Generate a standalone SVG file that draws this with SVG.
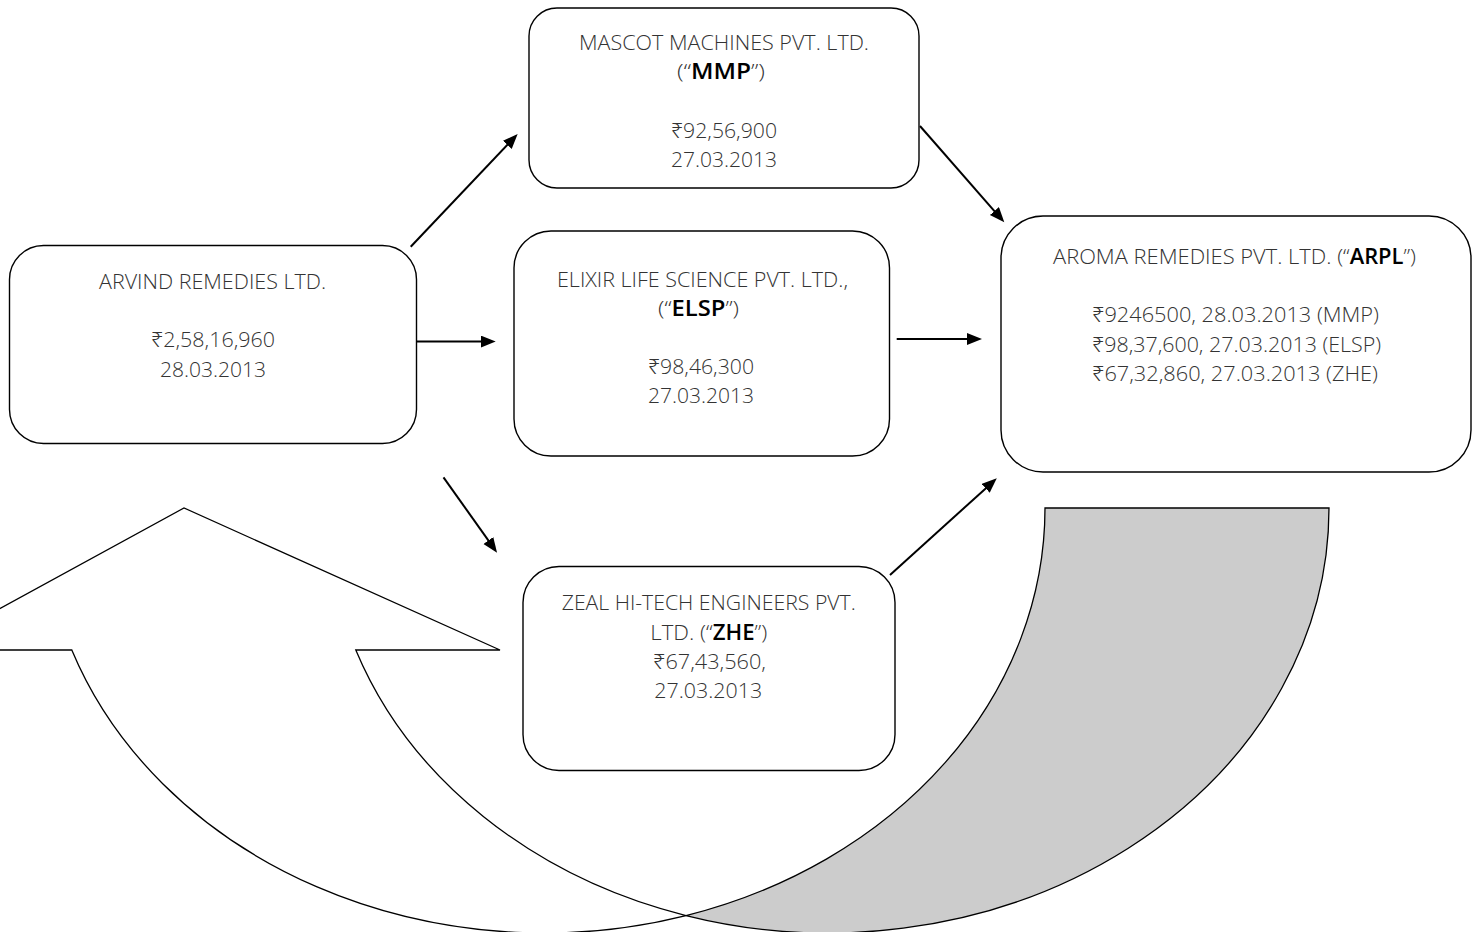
<svg xmlns="http://www.w3.org/2000/svg" width="1477" height="932" viewBox="0 0 1477 932">
  <defs>
    <marker id="ah" markerUnits="userSpaceOnUse" markerWidth="16" markerHeight="13" refX="3" refY="6" orient="auto">
      <path d="M0,0 L15,6 L0,12 Z" fill="#000"/>
    </marker>
    <style>
      .box { fill: #fff; stroke: #000; stroke-width: 1.4; }
      .conn { stroke: #000; stroke-width: 2; fill: none; marker-end: url(#ah); }
      .t { font-family: "Open Sans", "Noto Sans", "DejaVu Sans", sans-serif; font-weight: 300; font-size: 21px; fill: #333; text-anchor: middle; }
      .b { font-weight: 600; fill: #000; }
      .arrow-front { fill: #fff; stroke: #000; stroke-width: 1.3; }
      .arrow-back { fill: #cccccc; stroke: #000; stroke-width: 1.3; }
    </style>
  </defs>
  <rect width="1477" height="932" fill="#fff"/>

  <g id="curved-arrow">
    <path class="arrow-back" d="M1045,508 L1329,508 A501,425 0 0 1 686,915.6 A501,425 0 0 0 1045,508 Z"/>
    <path class="arrow-front" d="M71.8,650 L-76,650 L184,508 L500,650 L355.8,650 A501,425 0 0 0 686,915.6 A501,425 0 0 1 71.8,650 Z"/>
  </g>

  <g id="connectors">
    <line class="conn" x1="410.7" y1="246.7" x2="509.4" y2="142.7"/>
    <line class="conn" x1="416.7" y1="341.5" x2="483.7" y2="341.5"/>
    <line class="conn" x1="896.7" y1="339" x2="970" y2="339"/>
    <line class="conn" x1="443.5" y1="477.3" x2="490.1" y2="542.9"/>
    <line class="conn" x1="890" y1="575" x2="987.9" y2="486.4"/>
    <line class="conn" x1="920" y1="126" x2="996.4" y2="213.3"/>
  </g>

  <g id="node-mmp">
    <rect class="box" x="529" y="8" width="390" height="180" rx="28" ry="28"/>
    <text class="t" x="724" y="50" textLength="290" lengthAdjust="spacingAndGlyphs">MASCOT MACHINES PVT. LTD.</text>
    <text class="t" x="721" y="79" textLength="88" lengthAdjust="spacingAndGlyphs">(“<tspan class="b">MMP</tspan>”)</text>
    <text class="t" x="724" y="137.5" textLength="106" lengthAdjust="spacingAndGlyphs">₹92,56,900</text>
    <text class="t" x="724" y="166.5" textLength="106" lengthAdjust="spacingAndGlyphs">27.03.2013</text>
  </g>

  <g id="node-arvind">
    <rect class="box" x="9.5" y="245.5" width="407" height="198" rx="34" ry="34"/>
    <text class="t" x="212.5" y="289.3" textLength="227" lengthAdjust="spacingAndGlyphs">ARVIND REMEDIES LTD.</text>
    <text class="t" x="213" y="347.3" textLength="124" lengthAdjust="spacingAndGlyphs">₹2,58,16,960</text>
    <text class="t" x="213" y="376.7" textLength="106" lengthAdjust="spacingAndGlyphs">28.03.2013</text>
  </g>

  <g id="node-elsp">
    <rect class="box" x="514" y="231" width="375.5" height="225" rx="37" ry="37"/>
    <text class="t" x="702.5" y="286.7" textLength="291" lengthAdjust="spacingAndGlyphs">ELIXIR LIFE SCIENCE PVT. LTD.,</text>
    <text class="t" x="698.5" y="315.7" textLength="81" lengthAdjust="spacingAndGlyphs">(“<tspan class="b">ELSP</tspan>”)</text>
    <text class="t" x="701" y="373.7" textLength="106" lengthAdjust="spacingAndGlyphs">₹98,46,300</text>
    <text class="t" x="701" y="402.7" textLength="106" lengthAdjust="spacingAndGlyphs">27.03.2013</text>
  </g>

  <g id="node-arpl">
    <rect class="box" x="1001" y="216" width="470" height="256" rx="42" ry="42"/>
    <text class="t" x="1234.5" y="263.7" textLength="363" lengthAdjust="spacingAndGlyphs">AROMA REMEDIES PVT. LTD. (“<tspan class="b">ARPL</tspan>”)</text>
    <text class="t" x="1235.5" y="322" textLength="287" lengthAdjust="spacingAndGlyphs">₹9246500, 28.03.2013 (MMP)</text>
    <text class="t" x="1236.5" y="351.5" textLength="289" lengthAdjust="spacingAndGlyphs">₹98,37,600, 27.03.2013 (ELSP)</text>
    <text class="t" x="1235" y="381" textLength="286" lengthAdjust="spacingAndGlyphs">₹67,32,860, 27.03.2013 (ZHE)</text>
  </g>

  <g id="node-zhe">
    <rect class="box" x="523" y="566.5" width="372" height="204" rx="36" ry="36"/>
    <text class="t" x="708.7" y="610" textLength="294" lengthAdjust="spacingAndGlyphs">ZEAL HI-TECH ENGINEERS PVT.</text>
    <text class="t" x="708.8" y="639.5" textLength="117" lengthAdjust="spacingAndGlyphs">LTD. (“<tspan class="b">ZHE</tspan>”)</text>
    <text class="t" x="709.5" y="668.5" textLength="113" lengthAdjust="spacingAndGlyphs">₹67,43,560,</text>
    <text class="t" x="708.2" y="697.5" textLength="108" lengthAdjust="spacingAndGlyphs">27.03.2013</text>
  </g>
</svg>
